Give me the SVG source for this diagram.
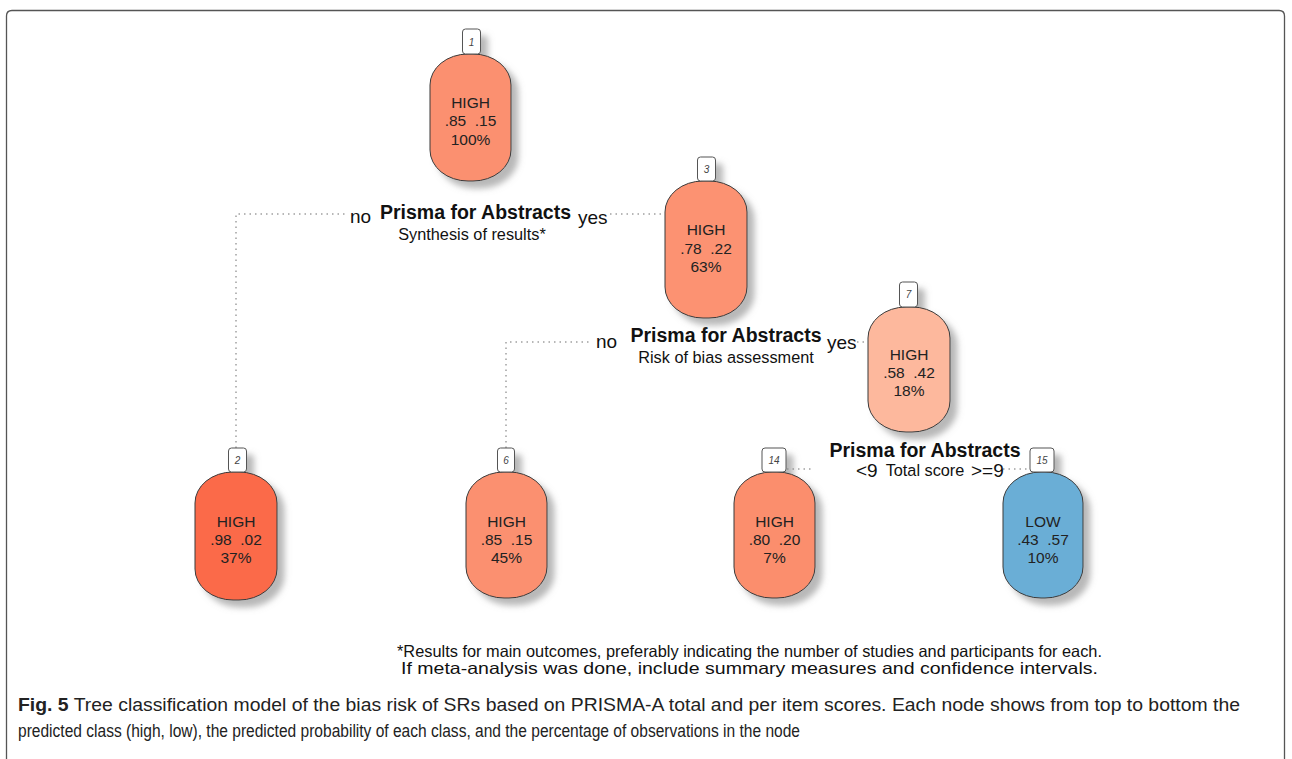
<svg xmlns="http://www.w3.org/2000/svg" width="1292" height="759" viewBox="0 0 1292 759">
<style>
.body{stroke:#3a3a3a;stroke-width:1}
.lbl{fill:#fff;stroke:#555;stroke-width:1}
.lt{font-family:"Liberation Sans",Arial,sans-serif;font-size:10px;font-style:italic;fill:#444;text-anchor:middle}
.nt{font-family:"Liberation Sans",Arial,sans-serif;font-size:15.5px;fill:#222;text-anchor:middle;white-space:pre}
.conn{fill:none;stroke:#a0a0a0;stroke-width:1.5;stroke-dasharray:1.5 4}
.bold{font-family:"Liberation Sans",Arial,sans-serif;font-size:19.5px;font-weight:bold;fill:#111;text-anchor:middle}
.yn{font-family:"Liberation Sans",Arial,sans-serif;font-size:19px;fill:#111}
.sub{font-family:"Liberation Sans",Arial,sans-serif;font-size:16.3px;fill:#111;text-anchor:middle}
.foot{font-family:"Liberation Sans",Arial,sans-serif;font-size:16.5px;fill:#111}
.cap{font-family:"Liberation Sans Narrow","Liberation Sans",Arial,sans-serif;font-size:17.5px;fill:#222}
</style>
<defs>
<filter id="sh" x="-20%" y="-20%" width="150%" height="150%">
<feDropShadow dx="7" dy="7" stdDeviation="3" flood-color="#888" flood-opacity="0.6"/>
</filter>
</defs>
<rect x="0" y="0" width="1292" height="759" fill="#fff"/>
<path d="M6.5 780 V16 Q6.5 10.5 12 10.5 H1279 Q1284.5 10.5 1284.5 16 V780" fill="none" stroke="#555" stroke-width="1.3"/>

<g id="connectors">
<path class="conn" d="M236 448 V214 H346"/>
<path class="conn" d="M610 214 H665"/>
<path class="conn" d="M506 448 V342 H591"/>
<path class="conn" d="M857 342 H868"/>
<path class="conn" d="M787 469 H812"/>
<path class="conn" d="M1003 469 H1030"/>
</g>

<g id="split1">
<text class="yn" x="350" y="223">no</text>
<text class="bold" x="475.5" y="219">Prisma for Abstracts</text>
<text class="yn" x="578" y="224">yes</text>
<text class="sub" x="472" y="240">Synthesis of results*</text>
</g>
<g id="split3">
<text class="yn" x="596" y="348">no</text>
<text class="bold" x="726" y="342">Prisma for Abstracts</text>
<text class="yn" x="827" y="349">yes</text>
<text class="sub" x="726" y="363">Risk of bias assessment</text>
</g>
<g id="split7">
<text class="bold" x="925" y="457">Prisma for Abstracts</text>
<text class="yn" x="856" y="477">&lt;9</text>
<text class="sub" x="925" y="476">Total score</text>
<text class="yn" x="971" y="477">&gt;=9</text>
</g>

<g id="node1">
<g filter="url(#sh)">
<rect class="body" x="430" y="54" width="81" height="127" rx="38" ry="31" fill="#FB9070"/>
<rect class="lbl" x="462.5" y="29" width="18" height="25" rx="3"/>
</g>
<text class="lt" x="471.5" y="46">1</text>
<text class="nt" x="470.5" y="108">HIGH</text>
<text class="nt" x="470.5" y="126">.85  .15</text>
<text class="nt" x="470.5" y="145">100%</text>
</g>

<g id="node3">
<g filter="url(#sh)">
<rect class="body" x="665" y="181" width="82" height="137" rx="38" ry="31" fill="#FC9272"/>
<rect class="lbl" x="697.5" y="157" width="18" height="24" rx="3"/>
</g>
<text class="lt" x="706.5" y="173">3</text>
<text class="nt" x="706" y="235">HIGH</text>
<text class="nt" x="706" y="254">.78  .22</text>
<text class="nt" x="706" y="272">63%</text>
</g>

<g id="node7">
<g filter="url(#sh)">
<rect class="body" x="868" y="307" width="82" height="125" rx="38" ry="31" fill="#FDB89D"/>
<rect class="lbl" x="899.5" y="282" width="18" height="25" rx="3"/>
</g>
<text class="lt" x="908.5" y="298">7</text>
<text class="nt" x="909" y="360">HIGH</text>
<text class="nt" x="909" y="378">.58  .42</text>
<text class="nt" x="909" y="396">18%</text>
</g>

<g id="node2">
<g filter="url(#sh)">
<rect class="body" x="195" y="472" width="82" height="128" rx="38" ry="31" fill="#FB6A4A"/>
<rect class="lbl" x="228.5" y="448" width="18" height="24" rx="3"/>
</g>
<text class="lt" x="237.5" y="464">2</text>
<text class="nt" x="236" y="527">HIGH</text>
<text class="nt" x="236" y="545">.98  .02</text>
<text class="nt" x="236" y="563">37%</text>
</g>

<g id="node6">
<g filter="url(#sh)">
<rect class="body" x="466" y="472" width="81" height="126" rx="38" ry="31" fill="#FB9070"/>
<rect class="lbl" x="497.5" y="448" width="17" height="24" rx="3"/>
</g>
<text class="lt" x="506" y="464">6</text>
<text class="nt" x="506.5" y="527">HIGH</text>
<text class="nt" x="506.5" y="545">.85  .15</text>
<text class="nt" x="506.5" y="563">45%</text>
</g>

<g id="node14">
<g filter="url(#sh)">
<rect class="body" x="734" y="472" width="81" height="126" rx="38" ry="31" fill="#FB8E6D"/>
<rect class="lbl" x="762" y="448" width="24" height="24" rx="3"/>
</g>
<text class="lt" x="774" y="464">14</text>
<text class="nt" x="774.5" y="527">HIGH</text>
<text class="nt" x="774.5" y="545">.80  .20</text>
<text class="nt" x="774.5" y="563">7%</text>
</g>

<g id="node15">
<g filter="url(#sh)">
<rect class="body" x="1003" y="472" width="80" height="126" rx="38" ry="31" fill="#6BAED6"/>
<rect class="lbl" x="1030" y="448" width="24" height="24" rx="3"/>
</g>
<text class="lt" x="1042" y="464">15</text>
<text class="nt" x="1043" y="527">LOW</text>
<text class="nt" x="1043" y="545">.43  .57</text>
<text class="nt" x="1043" y="563">10%</text>
</g>

<g id="footnote">
<text class="foot" x="397" y="657" textLength="705" lengthAdjust="spacingAndGlyphs">*Results for main outcomes, preferably indicating the number of studies and participants for each.</text>
<text class="foot" x="401" y="674" textLength="697" lengthAdjust="spacingAndGlyphs">If meta-analysis was done, include summary measures and confidence intervals.</text>
</g>

<g id="caption">
<text class="cap" x="18" y="711" textLength="1222" lengthAdjust="spacingAndGlyphs"><tspan font-weight="bold">Fig. 5</tspan> Tree classification model of the bias risk of SRs based on PRISMA-A total and per item scores. Each node shows from top to bottom the</text>
<text class="cap" x="18" y="737" textLength="782" lengthAdjust="spacingAndGlyphs">predicted class (high, low), the predicted probability of each class, and the percentage of observations in the node</text>
</g>
</svg>
